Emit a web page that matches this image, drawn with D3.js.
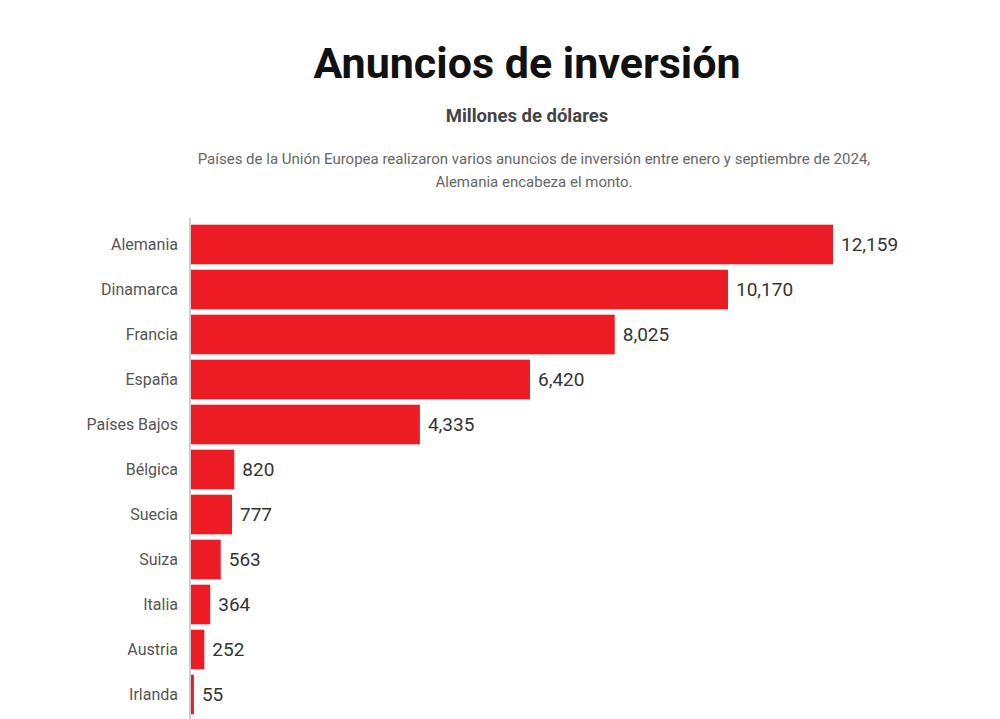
<!DOCTYPE html>
<html>
<head>
<meta charset="utf-8">
<script src="https://cdn.jsdelivr.net/npm/d3@7"></script>
<style>
  body { margin: 0; background: #fff; }
  text { font-family: Roboto, "Noto Sans", sans-serif; }
</style>
</head>
<body>
<svg id="chart"></svg>
<script>
var paises = ['Alemania', 'Dinamarca', 'Francia', 'España', 'Países Bajos', 'Bélgica', 'Suecia', 'Suiza', 'Italia', 'Austria', 'Irlanda'];
var montos = [12159, 10170, 8025, 6420, 4335, 820, 777, 563, 364, 252, 55];

var width = 1000, height = 719;
var margins = {top: 222, left: 191, bottom: 1};

var svg = d3.select('#chart')
    .attr('width', width)
    .attr('height', height);

// titulos
svg.append('text')
    .attr('x', 527).attr('y', 78)
    .attr('text-anchor', 'middle')
    .style('font-size', '43px')
    .style('font-weight', 'bold')
    .style('fill', '#111')
    .text('Anuncios de inversión');

svg.append('text')
    .attr('x', 527).attr('y', 122)
    .attr('text-anchor', 'middle')
    .style('font-size', '18.5px')
    .style('font-weight', 'bold')
    .style('fill', '#444')
    .text('Millones de dólares');

var desc = ['Países de la Unión Europea realizaron varios anuncios de inversión entre enero y septiembre de 2024,',
            'Alemania encabeza el monto.'];
svg.selectAll('.desc')
    .data(desc)
    .enter()
    .append('text')
    .attr('class', 'desc')
    .attr('x', 534)
    .attr('y', (d, i) => 164 + i * 23)
    .attr('text-anchor', 'middle')
    .style('font-size', '15px')
    .style('fill', '#666')
    .text(d => d);

var data = paises.map((p, i) => ({pais: p, monto: montos[i]}));

var xScale = d3.scaleLinear()
    .domain([0, 12159])
    .range([margins.left, 833]);

var yScale = d3.scaleBand()
    .domain(paises)
    .range([margins.top, margins.top + 45 * paises.length])
    .paddingInner(0.12)
    .paddingOuter(0.06);

svg.selectAll('.bar')
    .data(data)
    .enter()
    .append('rect')
    .attr('class', 'bar')
    .attr('x', xScale(0))
    .attr('y', d => yScale(d.pais))
    .attr('width', d => xScale(d.monto) - xScale(0))
    .attr('height', yScale.bandwidth())
    .style('fill', '#ec1c24');

svg.selectAll('.valor')
    .data(data)
    .enter()
    .append('text')
    .attr('class', 'valor')
    .attr('x', d => xScale(d.monto) + 8)
    .attr('y', d => yScale(d.pais) + yScale.bandwidth() / 2)
    .attr('dy', '0.35em')
    .style('font-size', '19px')
    .style('fill', '#333')
    .text(d => d3.format(',')(d.monto));

var yaxis = svg.append('g')
    .attr('transform', 'translate(' + (margins.left - 1) + ',0)')
    .call(d3.axisLeft(yScale).tickSize(0).tickPadding(12));

yaxis.select('.domain')
    .attr('d', 'M0,218V' + height)
    .style('stroke', '#999');

yaxis.selectAll('text')
    .style('font-size', '16px')
    .style('fill', '#555')
    .style('font-family', 'Roboto, "Noto Sans", sans-serif');
</script>
</body>
</html>
